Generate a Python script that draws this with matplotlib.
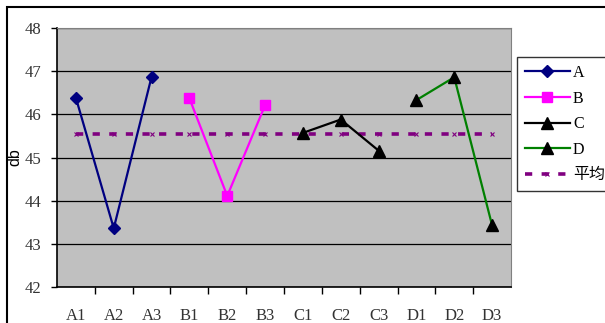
import matplotlib
matplotlib.use("Agg")
import matplotlib.pyplot as plt
from matplotlib.patches import Rectangle

plt.rcParams['font.family'] = ['Liberation Serif', 'Noto Sans CJK SC']

# category labels and series values (db)
labels = ['A1', 'A2', 'A3', 'B1', 'B2', 'B3', 'C1', 'C2', 'C3', 'D1', 'D2', 'D3']
a_vals = [46.38, 43.36, 46.87]
b_vals = [46.37, 44.11, 46.21]
c_vals = [45.57, 45.88, 45.16]
d_vals = [46.33, 46.86, 43.43]
all_vals = a_vals + b_vals + c_vals + d_vals
avg_val = sum(all_vals) / len(all_vals)
avg_vals = [avg_val] * len(labels)

W, H = 605, 323
fig = plt.figure(figsize=(W / 100, H / 100), dpi=100)
ax = fig.add_axes([57 / W, 1 - 287 / H, (511 - 57) / W, (287 - 28) / H])
ax.set_facecolor('#C0C0C0')

x = list(range(len(labels)))
ax.plot(x, avg_vals, color='#800080', lw=2.6, ls=(0, (2.0, 2.6)),
        marker='x', ms=3, mew=0.8, label='平均', zorder=3)
ax.plot(x[0:3], a_vals, color='#000080', lw=1.6, marker='D', ms=6.5,
        label='A', zorder=4)
ax.plot(x[3:6], b_vals, color='#FF00FF', lw=1.6, marker='s', ms=7,
        label='B', zorder=4)
ax.plot(x[6:9], c_vals, color='black', lw=1.6, marker='^', ms=9,
        mfc='black', label='C', zorder=4)
ax.plot(x[9:12], d_vals, color='#008000', lw=1.6, marker='^', ms=9,
        mfc='black', mec='black', label='D', zorder=4)

ax.set_xlim(-0.5, len(labels) - 0.5)
ax.set_ylim(42, 48)
ax.set_yticks(range(42, 49))
ax.yaxis.grid(True, color='black', lw=0.9)
ax.set_axisbelow(True)

ax.set_xticks(x)
ax.set_xticklabels(labels)
ax.set_xticks([i + 0.5 for i in range(len(labels) - 1)], minor=True)
ax.tick_params(axis='x', which='major', length=0, pad=15)
ax.tick_params(axis='x', which='minor', length=5, width=1, direction='out')
ax.tick_params(axis='y', length=4, width=1, direction='out', pad=7)
ax.tick_params(labelsize=12, labelcolor='#333333')

for side in ['top', 'right']:
    ax.spines[side].set_color('#808080')
for side in ['left', 'bottom']:
    ax.spines[side].set_color('black')
    ax.spines[side].set_linewidth(1.2)

ax.set_ylabel('db', family='Liberation Sans', fontsize=11.5)
ax.yaxis.set_label_coords(-0.077, 0.5)

handles, names = ax.get_legend_handles_labels()
order = [1, 2, 3, 4, 0]
leg = fig.legend([handles[i] for i in order], [names[i] for i in order],
                 loc='upper left', bbox_to_anchor=(517 / W, 0, 0.2, 1 - 57 / H),
                 mode='expand', fontsize=11.5, frameon=True, fancybox=False,
                 handlelength=2.8, handletextpad=0.2, labelspacing=0.6,
                 borderpad=0.5, borderaxespad=0)
leg.get_frame().set_edgecolor('black')
leg.get_frame().set_linewidth(1.0)

# outer chart border
fig.patches.append(Rectangle((7 / W, -0.5), 2, 1.5 - 7 / H, transform=fig.transFigure,
                             fill=False, edgecolor='black', lw=1.5))

fig.savefig('out.png', dpi=100)
